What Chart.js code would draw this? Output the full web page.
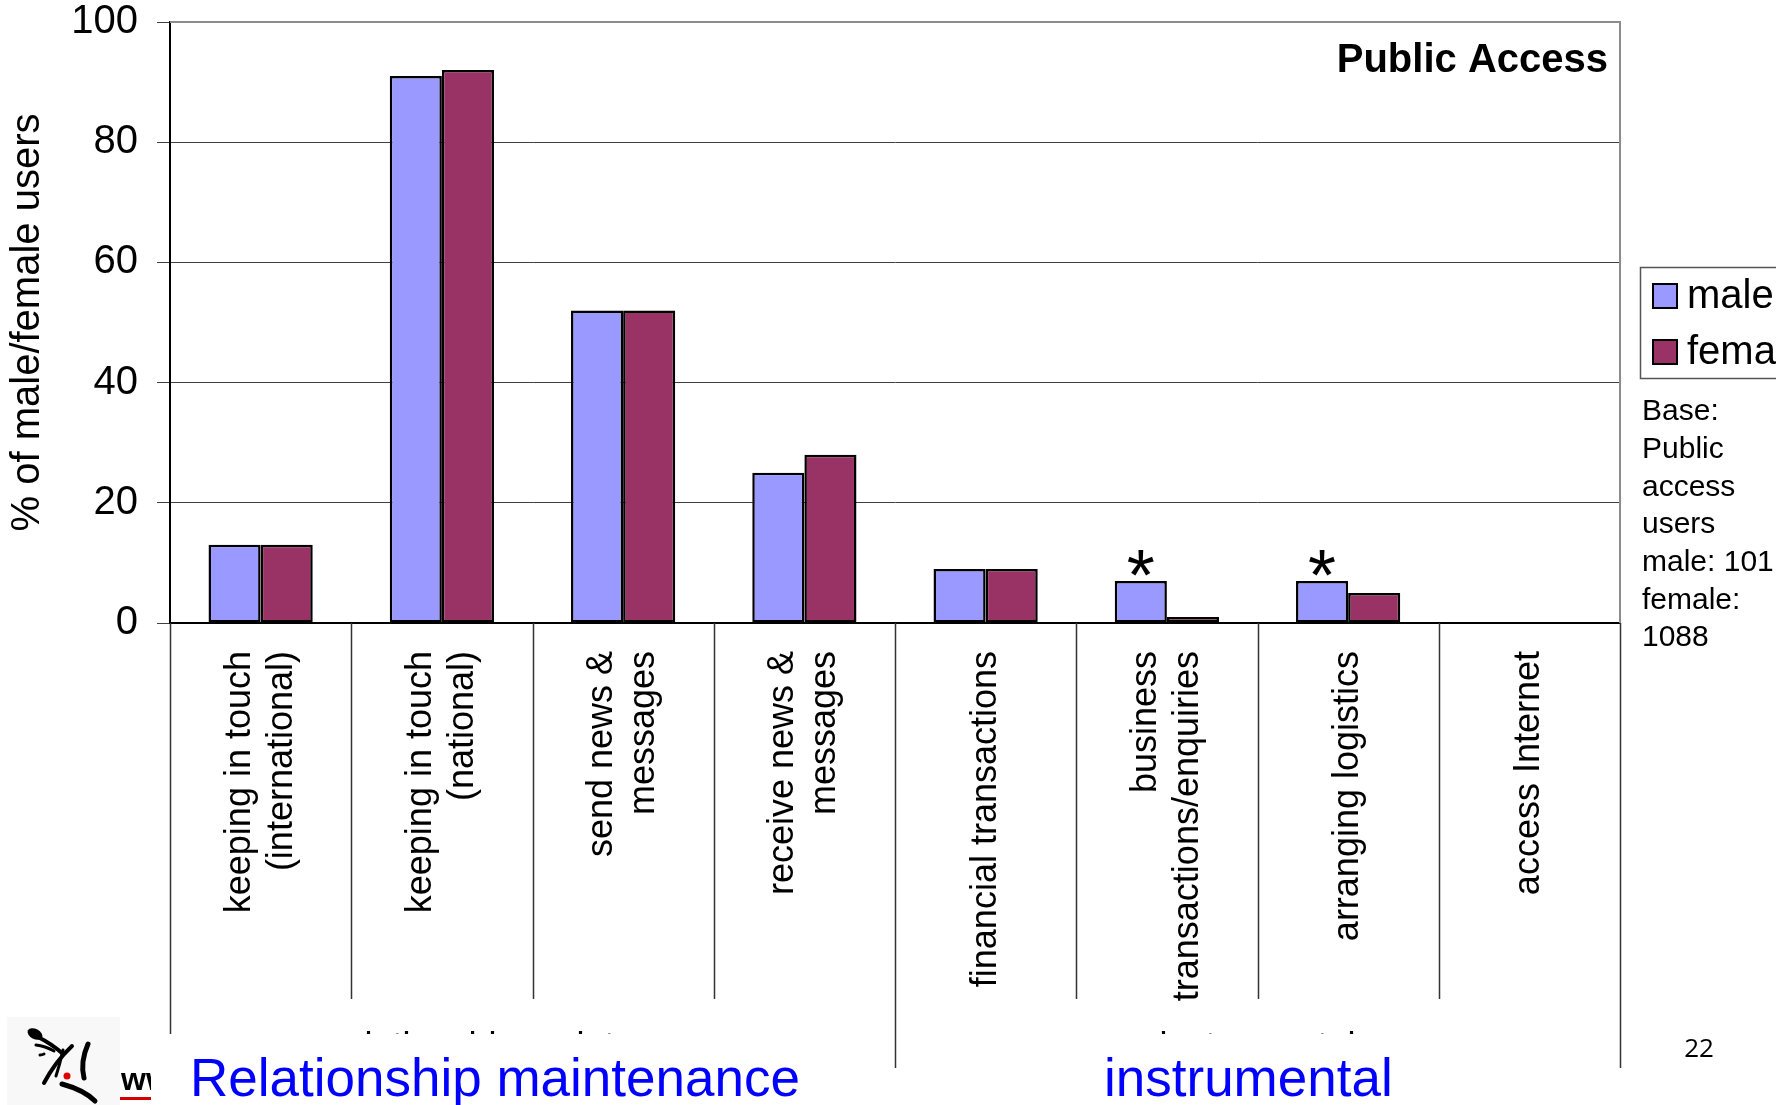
<!DOCTYPE html>
<html>
<head>
<meta charset="utf-8">
<title>Public Access</title>
<script src="https://cdn.jsdelivr.net/npm/chart.js@4.4.1/dist/chart.umd.min.js"></script>
<style>
  html, body { margin: 0; padding: 0; background: #fff; }
  canvas { display: block; }
</style>
</head>
<body>
<canvas id="usesChart" width="1776" height="1105"></canvas>
<script>
const categories = [
  ["keeping in touch", "(international)"],
  ["keeping in touch", "(national)"],
  ["send news &", "messages"],
  ["receive news &", "messages"],
  ["financial transactions"],
  ["business", "transactions/enquiries"],
  ["arranging logistics"],
  ["access Internet"],
];
const maleValues = [13, 91, 52, 25, 9, 7, 7, 0];
const femaleValues = [13, 92, 52, 28, 9, 1, 5, 0];
const yTicks = [0, 20, 40, 60, 80, 100];
const groups = [
  { label: "relationship maintenance", title: "Relationship maintenance", from: 0, to: 3 },
  { label: "instrumental", title: "instrumental", from: 4, to: 7 },
];
const starred = [5, 6];
const baseNote = ["Base:", "Public", "access", "users", "male: 101", "female:", "1088"];

const FONT = '"Liberation Sans", Arial, sans-serif';
const MALE = "#9999ff";
const FEMALE = "#993366";

// everything the bar chart itself doesn't draw: category labels, dividers,
// groups, legend, notes and the slide footer
const extras = {
  id: "extras",
  afterDraw(chart) {
    const ctx = chart.ctx;
    const xs = chart.scales.x;
    const area = chart.chartArea;
    ctx.save();

    // plot frame (top / right)
    ctx.strokeStyle = "#8c8c8c";
    ctx.lineWidth = 2;
    ctx.beginPath();
    ctx.moveTo(area.left, area.top);
    ctx.lineTo(area.right, area.top);
    ctx.lineTo(area.right, area.bottom);
    ctx.stroke();

    // category dividers below the axis
    ctx.strokeStyle = "#333";
    ctx.lineWidth = 1.5;
    for (let i = 0; i <= categories.length; i++) {
      const x = Math.round(xs.getPixelForValue(i - 0.5)) + 0.5;
      let end = 999;
      if (i === 0) end = 1034;
      else if (groups.some(g => g.from === i) || i === categories.length) end = 1068;
      ctx.beginPath();
      ctx.moveTo(x, area.bottom);
      ctx.lineTo(x, end);
      ctx.stroke();
    }

    // rotated category labels
    ctx.fillStyle = "#000";
    ctx.font = "36px " + FONT;
    ctx.textAlign = "right";
    ctx.textBaseline = "middle";
    categories.forEach((lines, i) => {
      const cx = xs.getPixelForValue(i);
      lines.forEach((txt, k) => {
        const off = (k - (lines.length - 1) / 2) * 42;
        ctx.save();
        ctx.translate(cx + off, 651);
        ctx.rotate(-Math.PI / 2);
        ctx.fillText(txt, 0, 0);
        ctx.restore();
      });
    });

    // group labels, mostly hidden under the footer
    ctx.save();
    ctx.beginPath();
    ctx.rect(0, 1000, 1776, 34);
    ctx.clip();
    ctx.textAlign = "center";
    ctx.textBaseline = "alphabetic";
    groups.forEach(g => {
      const cx = (xs.getPixelForValue(g.from - 0.5) + xs.getPixelForValue(g.to + 0.5)) / 2;
      ctx.fillText(g.label, cx, 1058);
    });
    ctx.restore();

    // asterisks over marked male bars
    const meta = chart.getDatasetMeta(0);
    ctx.font = "72px " + FONT;
    ctx.textAlign = "center";
    ctx.textBaseline = "alphabetic";
    const m = ctx.measureText("*");
    const half = (m.actualBoundingBoxAscent - m.actualBoundingBoxDescent) / 2;
    starred.forEach(i => {
      const bar = meta.data[i];
      ctx.fillText("*", bar.x, bar.y - 18 + half);
    });

    // panel title
    ctx.font = "bold 40px " + FONT;
    ctx.textAlign = "right";
    ctx.fillText("Public Access", 1608, 72);

    // legend
    ctx.strokeStyle = "#555";
    ctx.lineWidth = 1.5;
    ctx.strokeRect(1640.5, 267.5, 200, 111);
    chart.data.datasets.forEach((ds, k) => {
      const cy = 296 + k * 56;
      ctx.fillStyle = ds.backgroundColor;
      ctx.fillRect(1653, cy - 12, 24, 24);
      ctx.strokeStyle = "#000";
      ctx.lineWidth = 2;
      ctx.strokeRect(1653, cy - 12, 24, 24);
      ctx.fillStyle = "#000";
      ctx.font = "40px " + FONT;
      ctx.textAlign = "left";
      ctx.textBaseline = "middle";
      ctx.fillText(ds.label, 1687, cy + 1);
    });

    // base note
    ctx.font = "30px " + FONT;
    baseNote.forEach((txt, k) => ctx.fillText(txt, 1642, 412 + k * 37.7));

    // page number
    ctx.font = '26px "Open Sans", sans-serif';
    ctx.textAlign = "center";
    ctx.textBaseline = "alphabetic";
    ctx.fillText("22", 1699, 1057);

    // footer group titles
    ctx.fillStyle = "#0000ff";
    ctx.font = "53px " + FONT;
    ctx.textAlign = "left";
    ctx.fillText(groups[0].title, 190, 1096);
    ctx.fillText(groups[1].title, 1104, 1096);

    drawLogo(ctx);
    ctx.restore();
  },
};

function brush(ctx, pts, w) {
  ctx.lineWidth = w;
  ctx.beginPath();
  ctx.moveTo(pts[0], pts[1]);
  ctx.quadraticCurveTo(pts[2], pts[3], pts[4], pts[5]);
  ctx.stroke();
}

function drawLogo(ctx) {
  ctx.save();
  ctx.fillStyle = "#f8f8f8";
  ctx.fillRect(7, 1017, 113, 88);
  ctx.fillStyle = "#000";
  ctx.strokeStyle = "#000";
  ctx.lineCap = "round";
  ctx.beginPath();
  ctx.ellipse(35, 1034, 8, 5, 0.5, 0, Math.PI * 2);
  ctx.fill();
  brush(ctx, [38, 1037, 52, 1044, 63, 1054], 4);
  brush(ctx, [36, 1045, 45, 1046, 54, 1051], 3);
  brush(ctx, [40, 1055, 42, 1055, 44, 1054], 3);
  brush(ctx, [72, 1046, 55, 1062, 44, 1083], 4);
  brush(ctx, [88, 1044, 80, 1062, 84, 1078], 5);
  brush(ctx, [63, 1050, 60, 1064, 56, 1076], 3);
  brush(ctx, [62, 1084, 84, 1090, 95, 1101], 5);
  ctx.fillStyle = "#e00000";
  ctx.beginPath();
  ctx.arc(67, 1076, 3.5, 0, Math.PI * 2);
  ctx.fill();

  ctx.beginPath();
  ctx.rect(120, 1060, 31, 45);
  ctx.clip();
  ctx.fillStyle = "#000";
  ctx.font = "bold 32px " + FONT;
  ctx.textAlign = "left";
  ctx.textBaseline = "alphabetic";
  ctx.fillText("www", 121, 1090);
  ctx.fillStyle = "#d40000";
  ctx.fillRect(120, 1097, 31, 3);
  ctx.restore();
}

new Chart(document.getElementById("usesChart"), {
  type: "bar",
  data: {
    labels: categories,
    datasets: [
      {
        label: "male",
        data: maleValues,
        backgroundColor: MALE,
        borderColor: "#000",
        borderWidth: 2.5,
        borderSkipped: false,
      },
      {
        label: "female",
        data: femaleValues,
        backgroundColor: FEMALE,
        borderColor: "#000",
        borderWidth: 2.5,
        borderSkipped: false,
      },
    ],
  },
  options: {
    responsive: false,
    animation: false,
    devicePixelRatio: 1,
    layout: { padding: { top: 22, right: 156, left: 0, bottom: 0 } },
    datasets: { bar: { categoryPercentage: 0.575, barPercentage: 1.0 } },
    plugins: { legend: { display: false }, tooltip: { enabled: false } },
    scales: {
      x: {
        ticks: { display: false },
        grid: { display: false },
        border: { color: "#000", width: 2 },
        afterFit: (scale) => { scale.height = 482; },
      },
      y: {
        min: 0,
        max: 100,
        afterBuildTicks: (scale) => { scale.ticks = yTicks.map(v => ({ value: v })); },
        ticks: {
          color: "#000",
          padding: 19,
          font: { family: FONT, size: 40, lineHeight: 1 },
        },
        grid: { color: "#404040", lineWidth: 1, tickLength: 13 },
        border: { color: "#000", width: 2 },
        title: {
          display: true,
          text: "% of male/female users",
          color: "#000",
          font: { family: FONT, size: 40 },
          padding: { top: 4, bottom: 0 },
        },
        afterFit: (scale) => {
          scale.width = 170;
          scale.paddingTop = 0;
          scale.paddingBottom = 0;
        },
      },
    },
  },
  plugins: [extras],
});
</script>
</body>
</html>
